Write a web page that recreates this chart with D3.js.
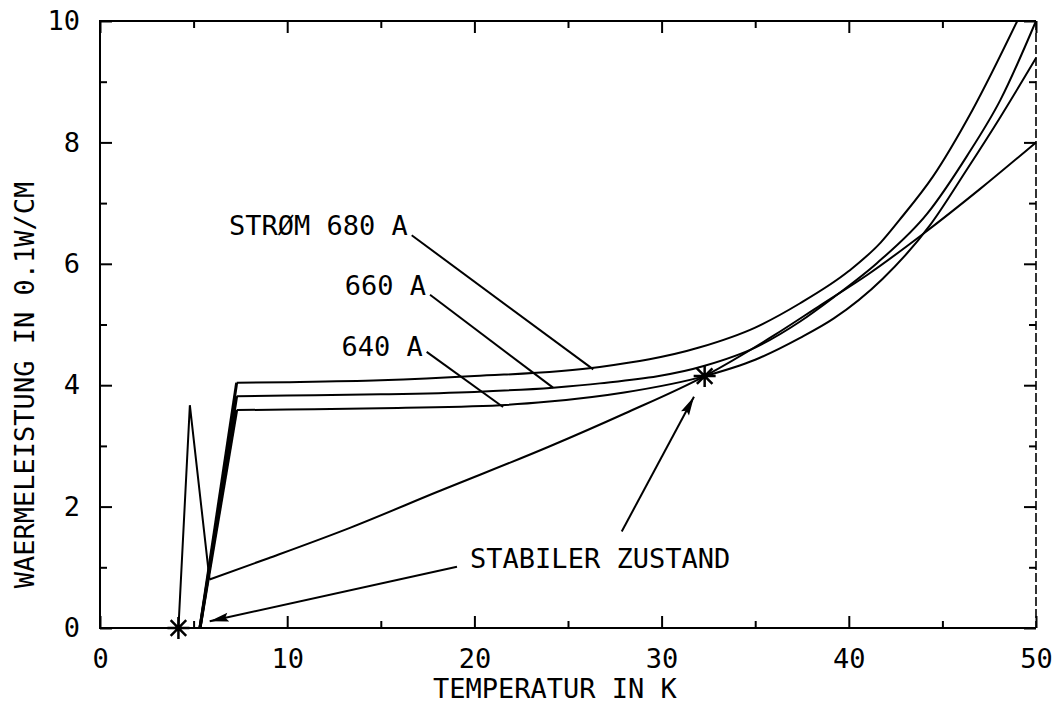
<!DOCTYPE html>
<html>
<head>
<meta charset="utf-8">
<script src="https://cdn.jsdelivr.net/npm/d3@7"></script>
<style>
  html, body { margin: 0; padding: 0; background: #fff; }
  svg { display: block; }
  text { font-family: "DejaVu Sans Mono", "Liberation Mono", monospace; font-size: 27px; fill: #000; }
</style>
</head>
<body>
<svg id="chart" width="1056" height="705"></svg>
<script>
// Heat generation curves for three conductor currents (temperature in K, power in 0.1 W/cm)
const temp680 = [5.34, 7.3, 10, 15, 20, 26.7, 32, 35, 37.4, 40, 41.7, 42.7, 44.5, 46.6, 49];
const heat680 = [0, 4.04, 4.05, 4.08, 4.15, 4.30, 4.62, 4.95, 5.35, 5.88, 6.35, 6.72, 7.44, 8.53, 10];

const temp660 = [5.34, 7.3, 10, 15, 20, 24.2, 26.7, 32.3, 35, 37.4, 39.2, 41.5, 44.2, 46.3, 48.1, 50];
const heat660 = [0, 3.82, 3.83, 3.85, 3.89, 3.96, 4.03, 4.32, 4.62, 5.05, 5.45, 6.01, 6.83, 7.77, 8.7, 10];

const temp640 = [5.34, 7.3, 10, 15, 21.4, 24, 28, 32.3, 35, 37.4, 39.2, 41.8, 44.3, 46.3, 48.1, 50];
const heat640 = [0, 3.59, 3.6, 3.62, 3.67, 3.73, 3.88, 4.15, 4.42, 4.78, 5.1, 5.75, 6.62, 7.55, 8.42, 9.39];

// Heat removal curve (first two segments: the spike near the bath temperature)
const tempCool = [4.19, 4.8, 5.85, 9, 13.35, 18, 24, 28, 32.3, 36, 38.5, 41, 44, 47, 50];
const heatCool = [0, 3.67, 0.8, 1.15, 1.65, 2.24, 2.99, 3.53, 4.15, 4.82, 5.32, 5.82, 6.5, 7.23, 8.0];

// Operating points marked with a star
const starTemp = [4.19, 32.3];
const starHeat = [0, 4.15];

// Axis ticks
const xMajorTicks = [0, 10, 20, 30, 40, 50];
const xMinorTicks = [5, 15, 25, 35, 45];
const yMajorTicks = [0, 2, 4, 6, 8, 10];
const yMinorTicks = [1, 3, 5, 7, 9];

// Curve labels with leader lines (label anchor -> point on curve)
const curveLabels = ["STRØM 680 A", "660 A", "640 A"];
const leaderFromT = [16.65, 17.63, 17.45];
const leaderFromQ = [6.47, 5.49, 4.55];
const leaderToT = [26.35, 24.2, 21.53];
const leaderToQ = [4.26, 3.96, 3.64];

// Annotation for the stable state
const stableText = "STABILER ZUSTAND";
const stableTextT = 19.77, stableTextQ = 0.99;
const arrowFromT = [27.87, 19.07];
const arrowFromQ = [1.59, 1.01];
const arrowToT = [31.73, 5.86];
const arrowToQ = [3.81, 0.11];

const xLabel = "TEMPERATUR IN K";
const yLabel = "WAERMELEISTUNG IN 0.1W/CM";

// ---- layout ----
const svg = d3.select("#chart");
const plotLeft = 100, plotRight = 1036, plotTop = 21, plotBottom = 628;

const x = d3.scaleLinear().domain([0, 50]).range([plotLeft, plotRight]);
const y = d3.scaleLinear().domain([0, 10]).range([plotBottom, plotTop]);

const ink = "#000";

// frame: three solid sides, the right edge drawn broken like the plotter pen
svg.append("path")
  .attr("d", `M${plotRight},${plotBottom}L${plotLeft},${plotBottom}L${plotLeft},${plotTop}L${plotRight},${plotTop}`)
  .attr("fill", "none").attr("stroke", ink).attr("stroke-width", 2);
svg.append("line")
  .attr("x1", plotRight).attr("y1", plotTop)
  .attr("x2", plotRight).attr("y2", plotBottom)
  .attr("stroke", ink).attr("stroke-width", 1.6)
  .attr("stroke-dasharray", "9,3");

// ticks (pointing inward) on all four sides
function tickAxis(axisFn, scale, values, size, tx, ty, labels) {
  const a = axisFn(scale).tickValues(values).tickSize(-size);
  if (labels) a.tickPadding(labels).tickFormat(d3.format("d"));
  else a.tickFormat("");
  const g = svg.append("g").attr("transform", `translate(${tx},${ty})`).call(a);
  g.select(".domain").remove();
  g.selectAll(".tick line").attr("stroke", ink).attr("stroke-width", 2);
  g.selectAll(".tick text")
    .style("font-family", '"DejaVu Sans Mono", monospace')
    .style("font-size", "27px").attr("fill", ink);
  return g;
}
tickAxis(d3.axisBottom, x, xMajorTicks, 12, 0, plotBottom, 21);
tickAxis(d3.axisBottom, x, xMinorTicks, 7, 0, plotBottom, 0);
tickAxis(d3.axisTop, x, xMajorTicks, 12, 0, plotTop, 0);
tickAxis(d3.axisTop, x, xMinorTicks, 7, 0, plotTop, 0);
tickAxis(d3.axisLeft, y, yMajorTicks, 12, plotLeft, 0, 20);
tickAxis(d3.axisLeft, y, yMinorTicks, 7, plotLeft, 0, 0);
tickAxis(d3.axisRight, y, yMajorTicks, 12, plotRight, 0, 0);
tickAxis(d3.axisRight, y, yMinorTicks, 7, plotRight, 0, 0);

// axis titles
svg.append("text")
  .attr("x", 433).attr("y", 698)
  .text(xLabel);
svg.append("text")
  .attr("transform", `translate(34,${(172 + 598) / 2}) rotate(-90)`)
  .attr("text-anchor", "middle")
  .text(yLabel);

// curves
const zip = (ts, qs) => ts.map((t, i) => [t, qs[i]]);
const smooth = d3.line().x(d => x(d[0])).y(d => y(d[1])).curve(d3.curveMonotoneX);
const straight = d3.line().x(d => x(d[0])).y(d => y(d[1]));

const plot = svg.append("g");

function drawCurve(pts, nLinear, linearWidth) {
  // leading segments drawn as straight strokes, the rest as a smooth curve
  plot.append("path")
    .attr("d", straight(pts.slice(0, nLinear + 1)))
    .attr("fill", "none").attr("stroke", ink)
    .attr("stroke-width", linearWidth).attr("stroke-linejoin", "miter");
  plot.append("path")
    .attr("d", smooth(pts.slice(nLinear)))
    .attr("fill", "none").attr("stroke", ink)
    .attr("stroke-width", 2);
}
drawCurve(zip(temp680, heat680), 1, 3);
drawCurve(zip(temp660, heat660), 1, 3);
drawCurve(zip(temp640, heat640), 1, 3);
drawCurve(zip(tempCool, heatCool), 2, 2);

// stars
starTemp.forEach((t, i) => {
  const cx = x(t), cy = y(starHeat[i]), r = 11;
  const d = d3.range(4).map(k => {
    const a = k * Math.PI / 4;
    return `M${cx - r * Math.cos(a)},${cy - r * Math.sin(a)}L${cx + r * Math.cos(a)},${cy + r * Math.sin(a)}`;
  }).join("");
  plot.append("path").attr("d", d).attr("stroke", ink).attr("stroke-width", 2.5).attr("fill", "none");
});

// curve labels and leaders
curveLabels.forEach((lab, i) => {
  const x0 = x(leaderFromT[i]), y0 = y(leaderFromQ[i]);
  plot.append("line")
    .attr("x1", x0).attr("y1", y0)
    .attr("x2", x(leaderToT[i])).attr("y2", y(leaderToQ[i]))
    .attr("stroke", ink).attr("stroke-width", 2);
  svg.append("text")
    .attr("x", x0 - 4).attr("y", y0 + (i === 2 ? 4 : 0))
    .attr("text-anchor", "end")
    .text(lab);
});

// stable-state annotation with arrows
const defs = svg.append("defs");
defs.append("marker")
  .attr("id", "head")
  .attr("markerUnits", "userSpaceOnUse")
  .attr("viewBox", "-20 -6 22 12")
  .attr("refX", 0).attr("refY", 0)
  .attr("markerWidth", 22).attr("markerHeight", 12)
  .attr("orient", "auto")
  .append("path")
  .attr("d", "M0,0L-19,-4.5L-16,0L-19,4.5Z")
  .attr("fill", ink);

arrowFromT.forEach((t, i) => {
  plot.append("line")
    .attr("x1", x(t)).attr("y1", y(arrowFromQ[i]))
    .attr("x2", x(arrowToT[i])).attr("y2", y(arrowToQ[i]))
    .attr("stroke", ink).attr("stroke-width", 2)
    .attr("marker-end", "url(#head)");
});
svg.append("text")
  .attr("x", x(stableTextT)).attr("y", y(stableTextQ))
  .text(stableText);
</script>
</body>
</html>
